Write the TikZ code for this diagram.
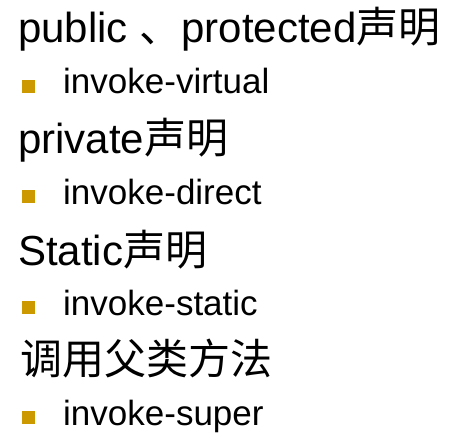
\documentclass[tikz,border=0pt]{standalone}
\usepackage{fontspec}
\setmainfont{Liberation Sans}
\newfontfamily\cjk{Noto Sans CJK SC}
\definecolor{bulletgold}{HTML}{CC9900}
\begin{document}
\begin{tikzpicture}[x=1pt,y=1pt,
  head/.style={anchor=base west,inner sep=0pt,font=\fontsize{42}{42}\selectfont},
  sub/.style={anchor=base west,inner sep=0pt,font=\fontsize{35}{35}\selectfont},
  bul/.style={fill=bulletgold,draw=none}]
\useasboundingbox (0,0) rectangle (450,-444);
\fill[white] (0,0) rectangle (450,-444);
\node[head] (h1) at (18,-43) {public {\cjk 、}protected{\cjk 声明}};
\node[sub] (s1) at (63,-94) {invoke-virtual};
\node[head] (h2) at (18,-153) {private{\cjk 声明}};
\node[sub] (s2) at (63,-204) {invoke-direct};
\node[head] (h3) at (18,-265) {Static{\cjk 声明}};
\node[sub] (s3) at (63,-315) {invoke-static};
\node[head] (h4) at (20,-374) {\cjk 调用父类方法};
\node[sub] (s4) at (63,-425) {invoke-super};
\foreach \y in {94,204,315,425}{
  \fill[bul] (22,-\y+1) rectangle (35,-\y+14);
}
\end{tikzpicture}
\end{document}
